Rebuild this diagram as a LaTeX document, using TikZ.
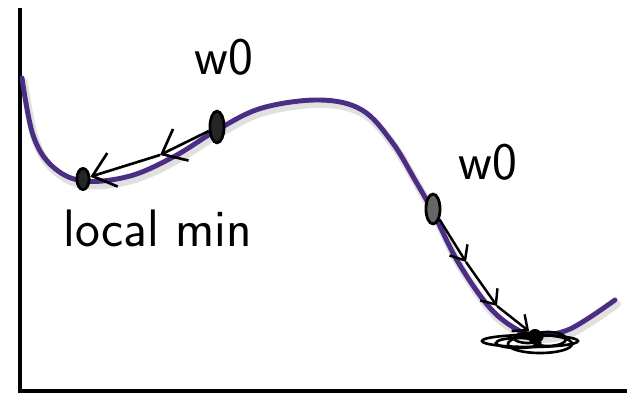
\documentclass[tikz,border=0pt]{standalone}
\usepackage{tikz}
\usetikzlibrary{arrows.meta,shapes.geometric}
\definecolor{lossPurple}{RGB}{75,46,131}
\tikzstyle{axis}=[line width=2.8pt]
\tikzstyle{landscape}=[draw=lossPurple,line width=2.8pt,line cap=round]
\tikzstyle{landshadow}=[draw=black,opacity=0.12,line width=4.5pt,line cap=round]
\tikzstyle{ball}=[draw,fill=black!85,ellipse,line width=1.6pt,inner sep=0pt]
\tikzstyle{handarrow}=[line width=1.5pt,-{Straight Barb[length=12pt,width=20pt]}]
\tikzstyle{smallstep}=[line width=1.4pt,-{Straight Barb[length=7pt,width=12pt]}]
\tikzstyle{scrawl}=[font=\sffamily\fontsize{30}{30}\selectfont]
\newcommand{\lossCurve}[1]{
\draw[#1] plot[smooth,tension=0.6] coordinates {
 (22,78) (33,135) (52,166) (83,181) (130,176) (175,156) (217,130)
 (262,108) (320,100) (362,110) (392,142) (415,180) (433,212)
 (458,262) (490,308) (518,330) (537,335) (570,329) (615,300)};
}

\begin{document}
\begin{tikzpicture}[x=0.02cm,y=-0.02cm]
\useasboundingbox (0,0) rectangle (627,395);
%axes
\draw[axis] (20,8) -- (20,391) -- (627,391);
%loss curve with its shadow
\begin{scope}[shift={(2,4)}]
\lossCurve{landshadow}
\end{scope}
\lossCurve{landscape}
%starting points and minima
\node[ball,minimum width=7pt,minimum height=12pt] (lmin) at (83,179) {};
\node[ball,minimum width=8pt,minimum height=18pt] (wleft) at (217,127) {};
\node[ball,minimum width=8pt,minimum height=17pt,fill=black!60] (wright) at (433,209) {};
\coordinate (mid) at (160,155);
\coordinate (r1) at (466,262);
\coordinate (r2) at (497,306);
\node[circle,fill=black,minimum size=8pt,inner sep=0pt] (gmin) at (535,336) {};
%scribble round the global min
\foreach \cx/\cy/\rx/\ry in {530/341/48/6, 540/344/32/9, 518/343/22/5, 548/339/18/7, 528/338/14/5}
  \draw[line width=1.5pt] (\cx,\cy) ellipse[x radius=\rx,y radius=\ry];
%steps of gradient descent
\draw[handarrow] (wleft) -- (mid);
\draw[handarrow] (mid) -- (lmin);
\draw[smallstep] (wright) -- (r1);
\draw[smallstep] (r1) -- (r2);
\draw[smallstep] (r2) -- (gmin);
%labels
\node[scrawl] (wzero) at (224,57) {w0};
\node[scrawl] (localmin) at (158,228) {local min};
\node[scrawl] (wzeroright) at (488,162) {w0};
\end{tikzpicture}
\end{document}
